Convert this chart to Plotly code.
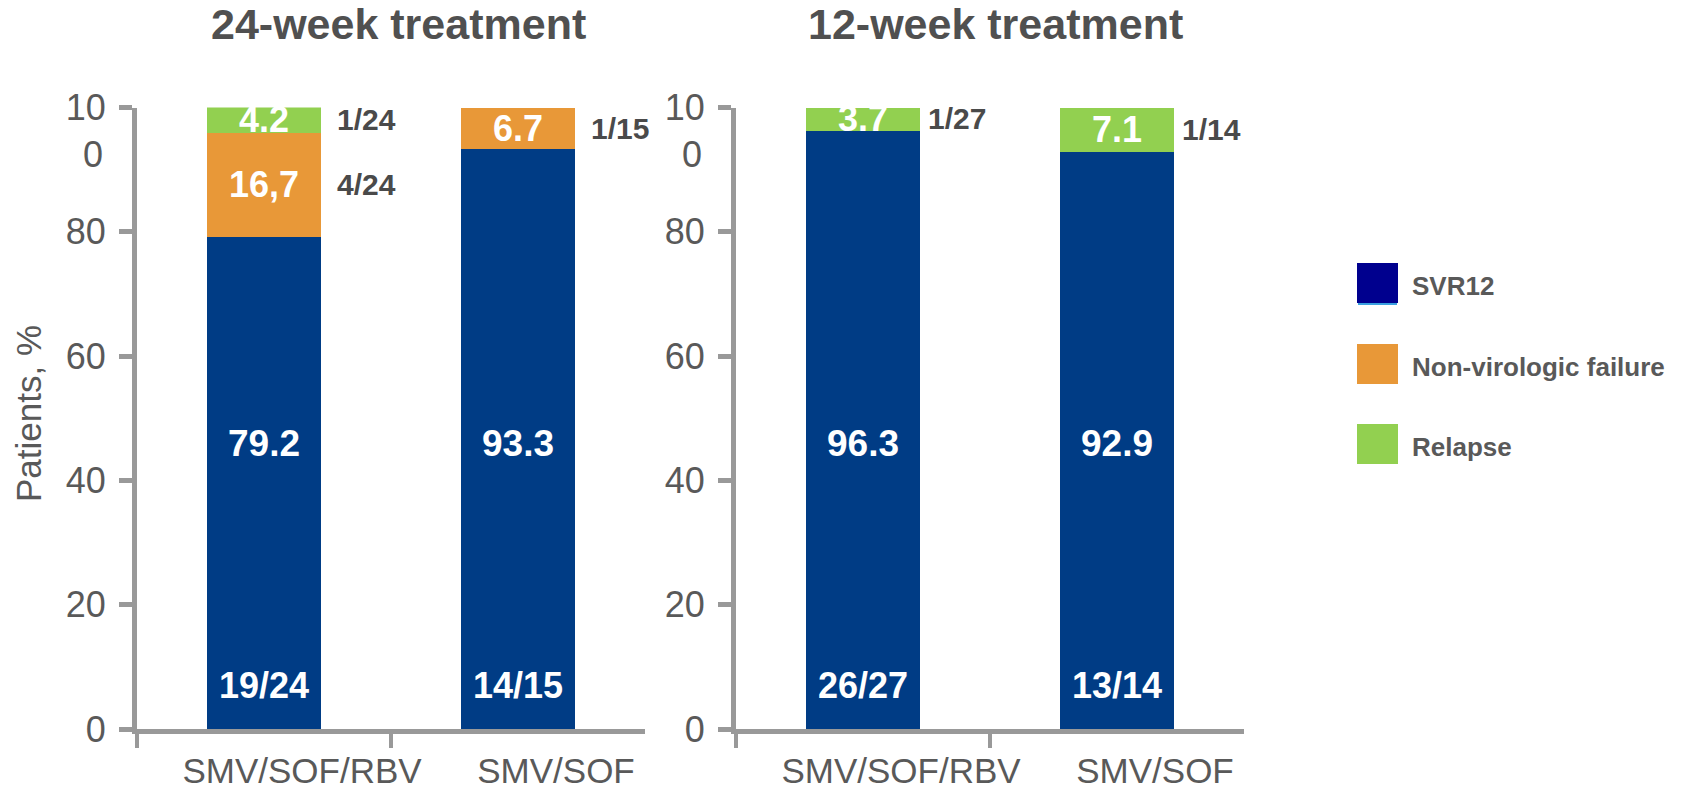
import plotly.graph_objects as go

# ---------------- data ----------------
categories = ["SMV/SOF/RBV", "SMV/SOF"]

svr_24 = [79.2, 93.3]
nvf_24 = [16.7, 6.7]
rel_24 = [4.2, 0.0]

svr_12 = [96.3, 92.9]
nvf_12 = [0.0, 0.0]
rel_12 = [3.7, 7.1]

svr_24_text = ["79.2", "93.3"]
nvf_24_text = ["16,7", "6.7"]
rel_24_text = ["4.2", ""]
svr_12_text = ["96.3", "92.9"]
nvf_12_text = ["", ""]
rel_12_text = ["3.7", "7.1"]

svr_24_frac = ["19/24", "14/15"]
nvf_24_frac = ["4/24", "1/15"]
rel_24_frac = ["1/24", ""]
svr_12_frac = ["26/27", "13/14"]
nvf_12_frac = ["", ""]
rel_12_frac = ["1/27", "1/14"]

panel_titles = ["24-week treatment", "12-week treatment"]
series_names = ["SVR12", "Non-virologic failure", "Relapse"]
y_tickvals = [0, 20, 40, 60, 80, 100]
y_ticktext = ["0", "20", "40", "60", "80", "10"]

# ---------------- style ----------------
W, H = 1686, 790
C_SVR = "#003C85"
C_NVF = "#E89838"
C_REL = "#92D050"
C_LEG_SVR = "#00008E"
AXIS = "#999999"
TXT = "#595959"
DARK = "#4A4A4A"
FONT = "Liberation Sans, Arial, sans-serif"


def px_x(p):
    return p / W


def px_y(p):
    return (H - p) / H


x_domains = [[px_x(137), px_x(645)], [px_x(736), px_x(1244)]]
y_domain = [px_y(729), px_y(107.5)]

fig = go.Figure()

panels = [
    (svr_24, nvf_24, rel_24, svr_24_text, nvf_24_text, rel_24_text,
     svr_24_frac, nvf_24_frac, rel_24_frac, "x", "y", 14),
    (svr_12, nvf_12, rel_12, svr_12_text, nvf_12_text, rel_12_text,
     svr_12_frac, nvf_12_frac, rel_12_frac, "x2", "y2", 6),
]

annotations = []
for (svr, nvf, rel, st, nt, rt, sf, nf, rf, xa, ya, fshift) in panels:
    for vals, col, name in [(svr, C_SVR, series_names[0]),
                            (nvf, C_NVF, series_names[1]),
                            (rel, C_REL, series_names[2])]:
        fig.add_trace(go.Bar(
            x=categories, y=vals, name=name, marker=dict(color=col, line=dict(width=0)),
            width=0.45, xaxis=xa, yaxis=ya, showlegend=False, hoverinfo="skip"))
    for i, cat in enumerate(categories):
        annotations.append(dict(x=cat, y=46, xref=xa, yref=ya, text=st[i], showarrow=False,
                                xanchor="center", yanchor="middle",
                                font=dict(family=FONT, size=37, color="white", weight="bold")))
        annotations.append(dict(x=cat, y=7, xref=xa, yref=ya, text=sf[i], showarrow=False,
                                xanchor="center", yanchor="middle",
                                font=dict(family=FONT, size=36, color="white", weight="bold")))
        base_n = svr[i]
        base_r = svr[i] + nvf[i]
        for val, base, txt, frac in [(nvf[i], base_n, nt[i], nf[i]),
                                     (rel[i], base_r, rt[i], rf[i])]:
            if val <= 0:
                continue
            ymid = base + val / 2
            if txt:
                annotations.append(dict(x=cat, y=ymid, xref=xa, yref=ya, text=txt, showarrow=False,
                                        xanchor="center", yanchor="middle",
                                        font=dict(family=FONT, size=36, color="white", weight="bold")))
            if frac:
                annotations.append(dict(x=i + 0.225, y=ymid, xref=xa, yref=ya, text=frac,
                                        showarrow=False, xanchor="left", yanchor="middle", xshift=fshift,
                                        font=dict(family=FONT, size=30, color=DARK, weight="bold")))
    # the wrapped "0" of the 100 tick label
    annotations.append(dict(x=0, y=92.5, xref=xa + " domain", yref=ya, text="0", showarrow=False,
                            xanchor="right", yanchor="middle", xshift=-32,
                            font=dict(family=FONT, size=36, color=TXT)))

# titles
for t, xc in zip(panel_titles, [398, 995]):
    annotations.append(dict(x=px_x(xc), y=px_y(24), xref="paper", yref="paper", text=t,
                            xanchor="center", yanchor="middle", showarrow=False,
                            font=dict(family=FONT, size=43, color="#505050", weight="bold")))
# y axis title
annotations.append(dict(x=px_x(28), y=px_y(414), xref="paper", yref="paper", text="Patients, %",
                        textangle=-90, xanchor="center", yanchor="middle", showarrow=False,
                        font=dict(family=FONT, size=35, color=TXT)))

# custom legend
shapes = []
leg = [(series_names[0], C_LEG_SVR, 283), (series_names[1], C_NVF, 364), (series_names[2], C_REL, 444)]
for name, col, yc in leg:
    shapes.append(dict(type="rect", xref="paper", yref="paper",
                       x0=px_x(1357), x1=px_x(1398), y0=px_y(yc + 20), y1=px_y(yc - 20),
                       fillcolor=col, line=dict(width=0)))
    annotations.append(dict(x=px_x(1410), y=px_y(yc + 3), xref="paper", yref="paper", text=name,
                            xanchor="left", yanchor="middle", showarrow=False,
                            font=dict(family=FONT, size=26, color=TXT, weight="bold")))
shapes.append(dict(type="line", xref="paper", yref="paper", x0=px_x(1358), x1=px_x(1397),
                   y0=px_y(304), y1=px_y(304), line=dict(color="#3AA0E0", width=2)))

xaxis_common = dict(type="category", range=[-0.5, 1.5], showline=True, linecolor=AXIS, linewidth=5,
                    ticks="outside", tickson="boundaries", ticklen=14, tickwidth=4, tickcolor=AXIS,
                    tickangle=0,
                    tickfont=dict(family=FONT, size=35, color=TXT), showgrid=False, zeroline=False,
                    automargin=False, ticklabelstandoff=7, ticklabelshift=38)
yaxis_common = dict(range=[0, 100], tickvals=y_tickvals, ticktext=y_ticktext, showline=True,
                    linecolor=AXIS, linewidth=5, ticks="outside", ticklen=13, tickwidth=5, tickcolor=AXIS,
                    tickfont=dict(family=FONT, size=36, color=TXT), showgrid=False, zeroline=False,
                    automargin=False, domain=y_domain, ticklabelstandoff=6)

fig.update_layout(
    width=W, height=H, margin=dict(l=0, r=0, t=0, b=0),
    paper_bgcolor="white", plot_bgcolor="white", barmode="stack", bargap=0.55,
    xaxis=dict(domain=x_domains[0], anchor="y", **xaxis_common),
    xaxis2=dict(domain=x_domains[1], anchor="y2", **xaxis_common),
    yaxis=dict(anchor="x", **yaxis_common),
    yaxis2=dict(anchor="x2", **yaxis_common),
    annotations=annotations, shapes=shapes, showlegend=False,
)

fig.write_html("out.html", config={"displayModeBar": False},
               post_script="document.body.style.margin='0px';document.body.style.overflow='hidden';")
